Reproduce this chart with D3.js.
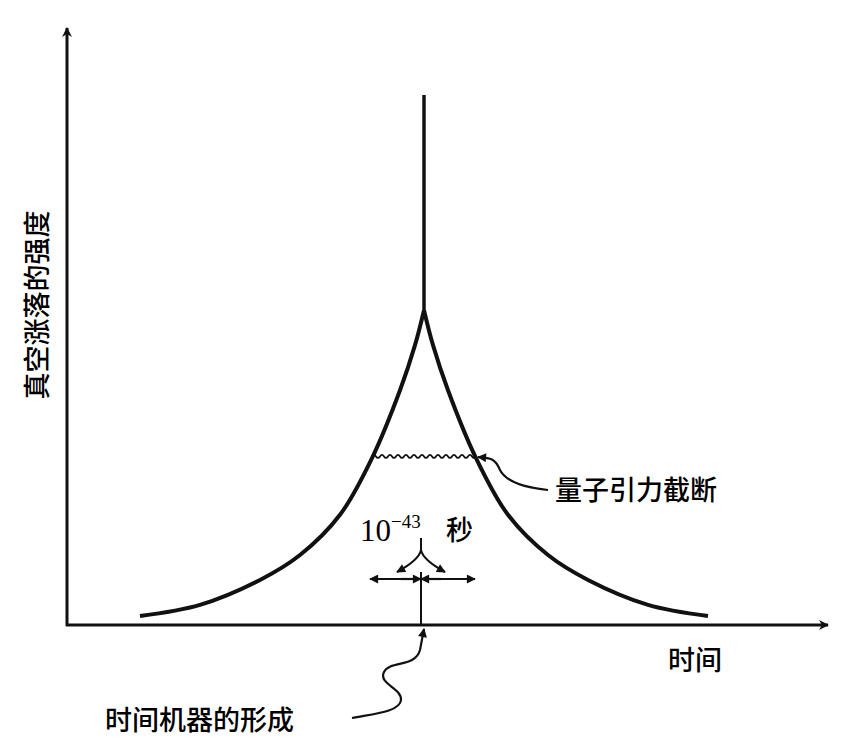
<!DOCTYPE html><html><head><meta charset="utf-8"><script src="https://cdn.jsdelivr.net/npm/d3@7"></script>
<style>body{margin:0;background:#fff}text{font-weight:500}</style></head><body><svg width="842" height="746"></svg><script>
const leftT=[-284,-224,-164,-124,-84,-52,-24,-9,0];
const leftI=[1.7,3.8,8.5,13.2,20.8,31.5,44.3,52.8,59.4];
const spikeTop=100;
const cutoffLevel=32;
const labels={y:"真空涨落的强度",x:"时间",cut:"量子引力截断",tm:"时间机器的形成",sec:"秒"};
const svg=d3.select("svg");
const x=d3.scaleLinear().domain([-300,300]).range([124,724]);
const y=d3.scaleLinear().domain([0,100]).range([625,95]);
const defs=svg.append("defs");
defs.append("marker").attr("id","ah").attr("viewBox","0 0 10 10").attr("refX",9).attr("refY",5).attr("markerWidth",14).attr("markerHeight",10).attr("markerUnits","userSpaceOnUse").attr("orient","auto")
 .append("path").attr("d","M0,0L10,5L0,10L3,5Z").attr("fill","#111");
defs.append("marker").attr("id","sa").attr("viewBox","0 0 10 10").attr("refX",9).attr("refY",5).attr("markerWidth",11).attr("markerHeight",9).attr("markerUnits","userSpaceOnUse").attr("orient","auto")
 .append("path").attr("d","M0,0L10,5L0,10Z").attr("fill","#111");
svg.append("line").attr("x1",67).attr("y1",626).attr("x2",67).attr("y2",28).attr("stroke","#111").attr("stroke-width",3).attr("marker-end","url(#ah)");
svg.append("line").attr("x1",66).attr("y1",625).attr("x2",828).attr("y2",625).attr("stroke","#111").attr("stroke-width",3).attr("marker-end","url(#ah)");
const pts=leftT.map((t,i)=>[t,leftI[i]]);
const right=pts.slice(0,-1).reverse().map(d=>[-d[0],d[1]]);
const line=d3.line().x(d=>x(d[0])).y(d=>y(d[1])).curve(d3.curveCatmullRom);
svg.append("path").attr("d",line(pts)).attr("fill","none").attr("stroke","#111").attr("stroke-width",4);
svg.append("path").attr("d",line([[0,leftI[leftI.length-1]],...right])).attr("fill","none").attr("stroke","#111").attr("stroke-width",4);
svg.append("line").attr("x1",x(0)).attr("x2",x(0)).attr("y1",y(leftI[8])).attr("y2",y(spikeTop)).attr("stroke","#111").attr("stroke-width",3.5);
const wy=y(cutoffLevel)+1; let wd=`M${x(-52)},${wy}`;
for(let xx=x(-52);xx<x(52);xx+=4){wd+=`Q${xx+2},${wy+(((xx-x(-52))/4)%2?3:-3)} ${xx+4},${wy}`;}
svg.append("path").attr("d",wd).attr("fill","none").attr("stroke","#111").attr("stroke-width",1.8);
svg.append("path").attr("d",`M548,490C520,487 505,480 500,470C495,458 490,458 478,457`).attr("fill","none").attr("stroke","#111").attr("stroke-width",2.2).attr("marker-end","url(#sa)");
svg.append("text").attr("x",555).attr("y",500).attr("font-family","Noto Sans CJK SC").attr("font-size",27).text(labels.cut);
const t=svg.append("text").attr("x",360).attr("y",541).attr("font-family","Liberation Serif").attr("font-size",31);
t.append("tspan").text("10");t.append("tspan").attr("dy",-13).attr("font-size",19).text("−43");
svg.append("text").attr("x",446).attr("y",540).attr("font-family","Noto Sans CJK SC").attr("font-size",27).text(labels.sec);
const cx=x(0)-3;
svg.append("path").attr("d",`M${cx},538L${cx},550Q${cx-2},560 ${cx-24},572`).attr("fill","none").attr("stroke","#111").attr("stroke-width",2).attr("marker-end","url(#sa)");
svg.append("path").attr("d",`M${cx},550Q${cx+2},560 ${cx+24},572`).attr("fill","none").attr("stroke","#111").attr("stroke-width",2).attr("marker-end","url(#sa)");
svg.append("line").attr("x1",cx-10).attr("x2",370).attr("y1",579).attr("y2",579).attr("stroke","#111").attr("stroke-width",2.2).attr("marker-end","url(#sa)");
svg.append("line").attr("x1",cx+10).attr("x2",475).attr("y1",579).attr("y2",579).attr("stroke","#111").attr("stroke-width",2.2).attr("marker-end","url(#sa)");
svg.append("line").attr("x1",cx-20).attr("x2",cx).attr("y1",579).attr("y2",579).attr("stroke","#111").attr("stroke-width",2.2).attr("marker-end","url(#sa)");
svg.append("line").attr("x1",cx+20).attr("x2",cx).attr("y1",579).attr("y2",579).attr("stroke","#111").attr("stroke-width",2.2).attr("marker-end","url(#sa)");
svg.append("line").attr("x1",cx).attr("x2",cx).attr("y1",572).attr("y2",625).attr("stroke","#111").attr("stroke-width",2);
svg.append("path").attr("d",`M352,718C372,714 400,712 401,700C402,688 378,684 384,672C390,660 415,668 420,650L424,629`).attr("fill","none").attr("stroke","#111").attr("stroke-width",2.2).attr("marker-end","url(#sa)");
svg.append("text").attr("x",105).attr("y",730).attr("font-family","Noto Sans CJK SC").attr("font-size",27).text(labels.tm);
svg.append("text").attr("x",668).attr("y",670).attr("font-family","Noto Sans CJK SC").attr("font-size",27).text(labels.x);
svg.append("text").attr("transform","translate(47,305) rotate(-90)").attr("text-anchor","middle").attr("font-family","Noto Sans CJK SC").attr("font-size",27).text(labels.y);
</script></body></html>
